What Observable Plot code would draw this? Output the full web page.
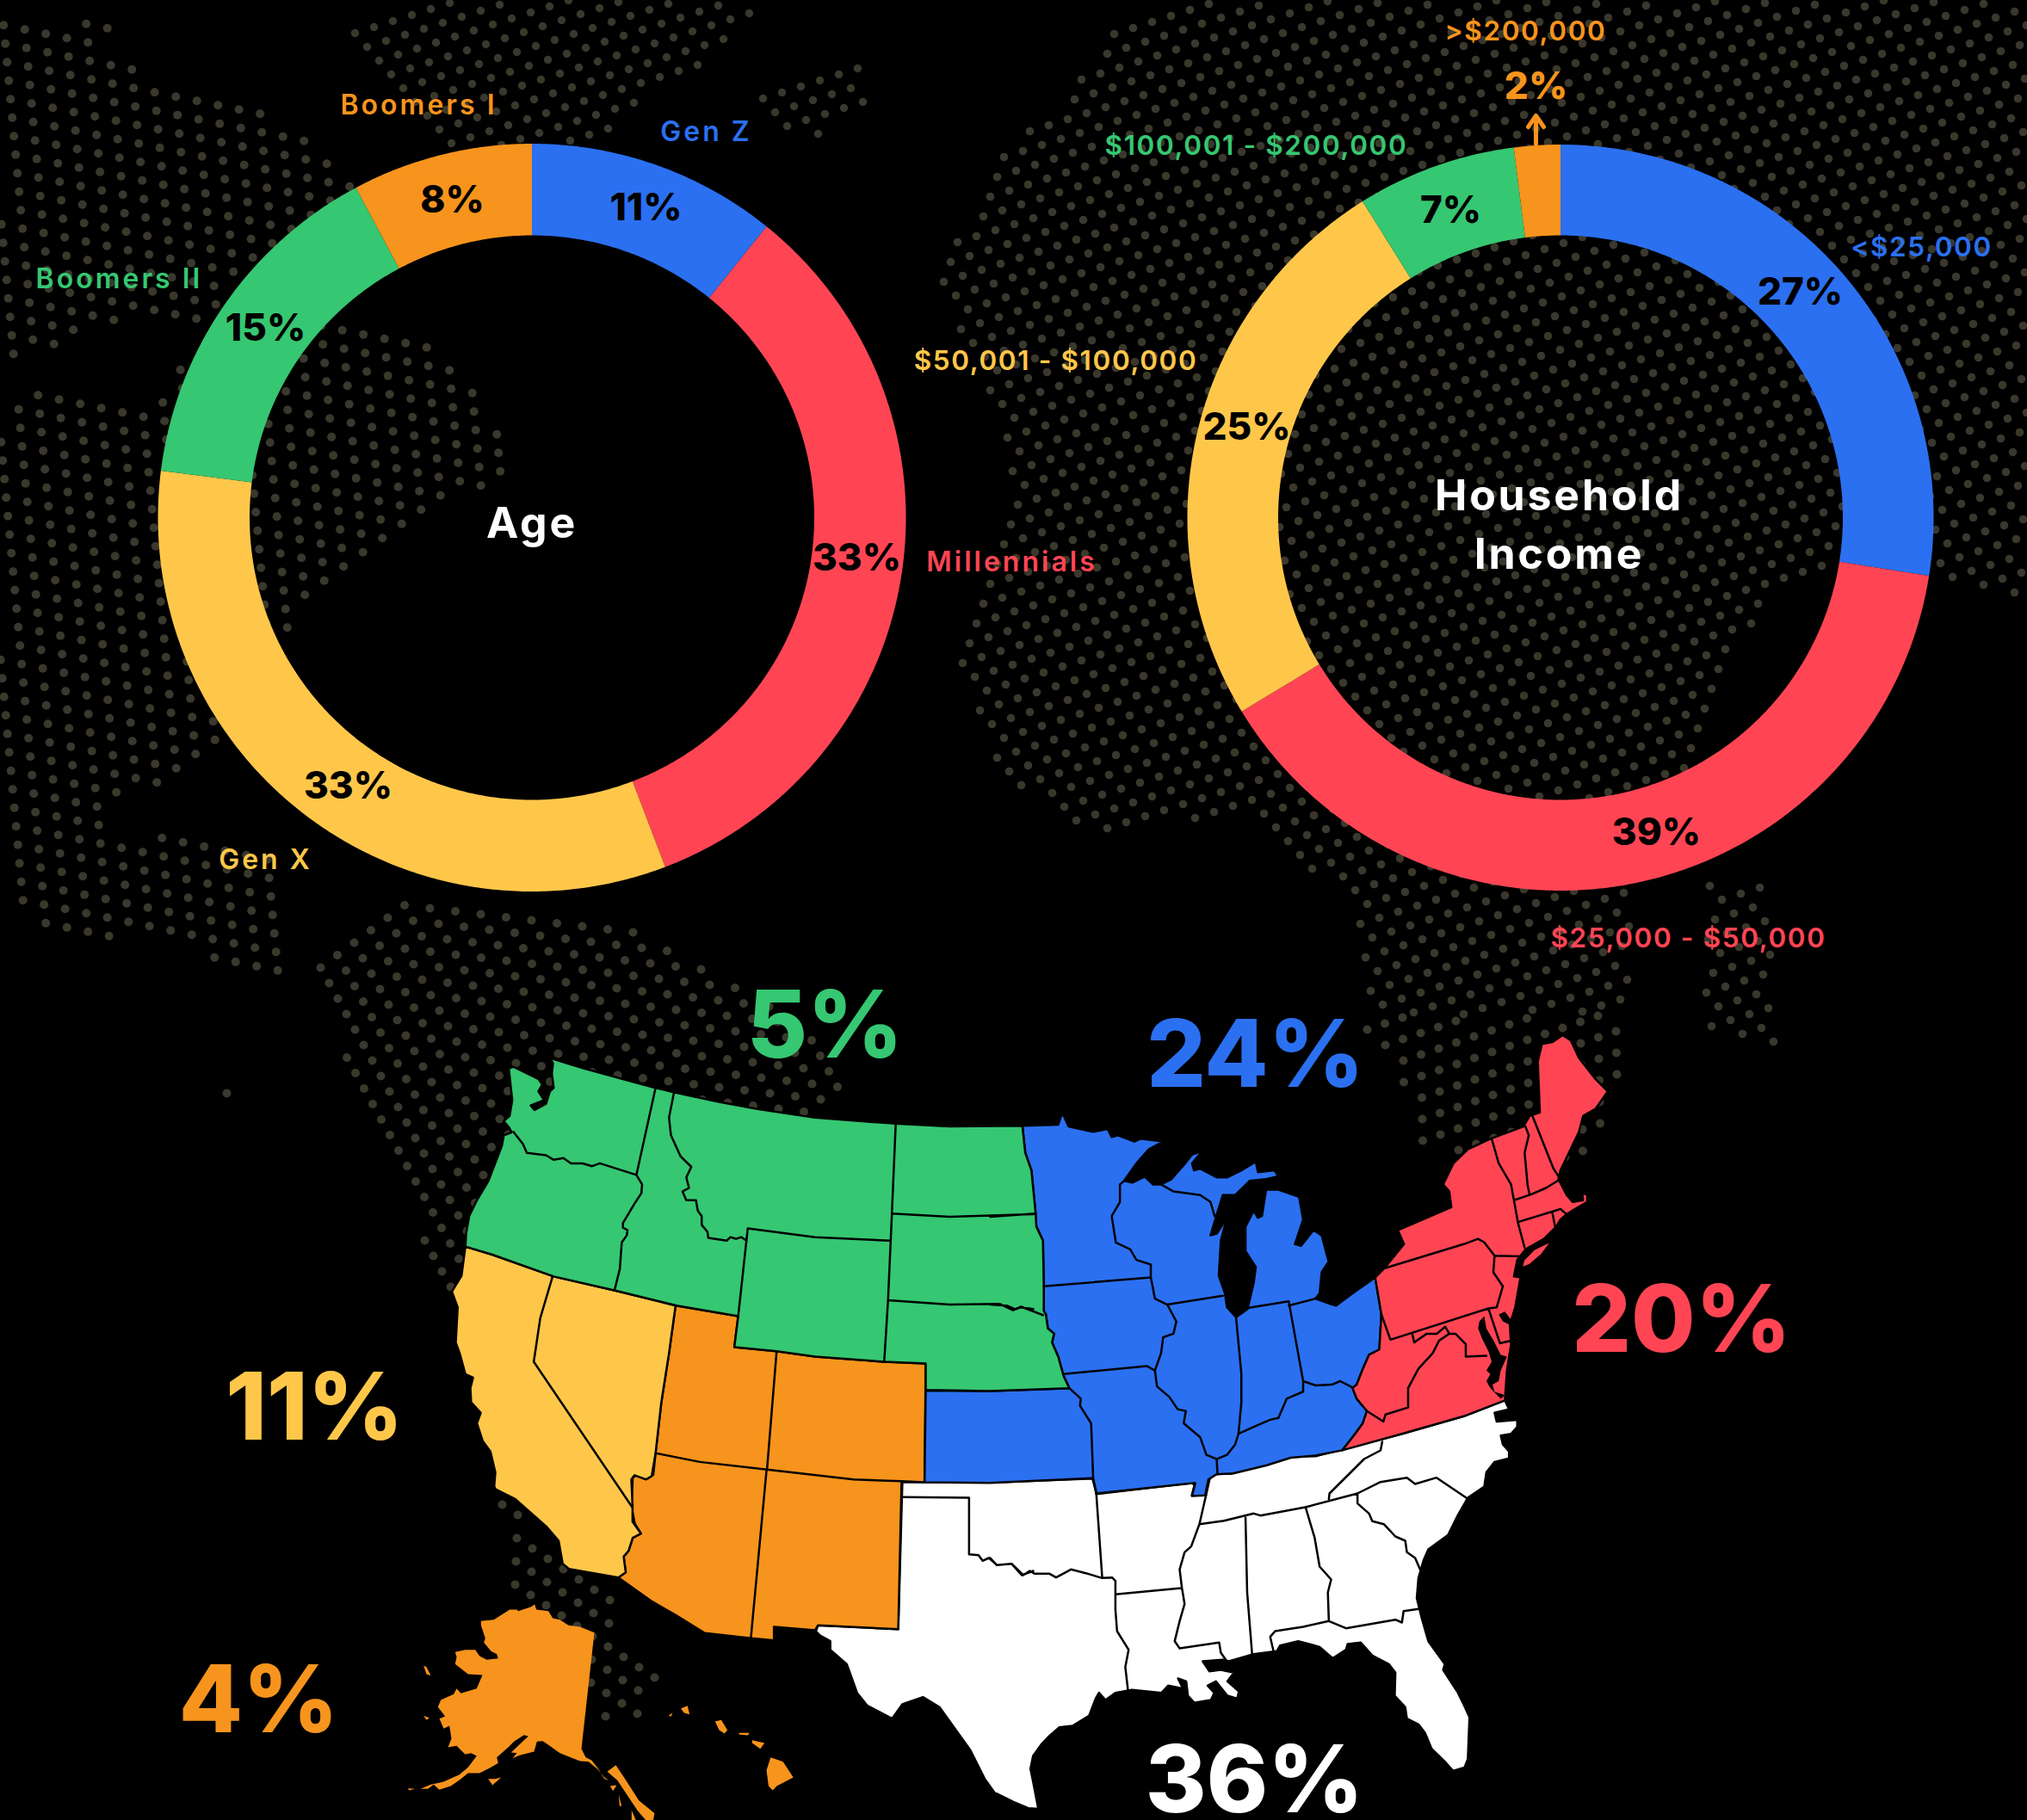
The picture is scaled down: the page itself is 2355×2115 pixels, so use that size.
<!DOCTYPE html>
<html>
<head>
<meta charset="utf-8">
<style>
html,body{margin:0;padding:0;background:#000;overflow:hidden}
svg{display:block}
svg g[font-size="32"]{letter-spacing:3px}
svg g[font-size="31.5"]{letter-spacing:1.6px}
svg g[font-size="50"]{letter-spacing:2.8px}
</style>
<script src="https://cdn.jsdelivr.net/npm/d3@7"></script>
<script src="https://cdn.jsdelivr.net/npm/@observablehq/plot@0.6"></script>
</head>
<body>
<script>
// ---------- chart values ----------
const ageGroups = ["Gen Z","Millennials","Gen X","Boomers II","Boomers I"];
const agePercents = [11,33,33,15,8];
const ageShares = [10.8,33.4,32.8,15.2,7.8];
const incomeBands = ["<$25,000","$25,000 - $50,000","$50,001 - $100,000","$100,001 - $200,000",">$200,000"];
const incomeLabels = [27,39,25,7,2];
const incomeShares = [27.5,38.8,24.8,6.9,2.0];
const tiers = ["first","second","third","fourth","fifth","rest"];
const tierColors = ["#2b70f0","#ff4554","#ffc74a","#36c772","#f7941d","#ffffff"];
const regionPercents = [
  {label:"5%",tier:"fourth"},{label:"24%",tier:"first"},{label:"20%",tier:"second"},
  {label:"11%",tier:"third"},{label:"4%",tier:"fifth"},{label:"36%",tier:"rest"}
];

// ---------- placement ----------
const regionPercentAt = [[958,1228],[1458,1262],[1953,1570],[365,1672],[300,2012],[1457,2105]];
const ageNameAt = [[820,163],[1175,663],[308,1009],[138,334],[486,132]];
const agePctAt = [[750,255],[995,662],[404,927],[308,395],[525,246]];
const incomeNameAt = [[2232,297],[1961,1100],[1226,429],[1459,179],[1772,46]];
const incomePctAt = [[2091,353],[1924,981],[1448,510],[1685,258],[1784,114]];

// traced outlines, each written in the frame of the crop it was read from
const frames = {
  full:[0,0,1,1], z1:[500,1180,2.24,2.45], z2:[1150,1180,2.0907,2.45],
  z3:[450,1650,2.0907,3], z4:[1150,1650,2.6133,3], z5:[0,0,1.3067,1.3067], z6:[1050,0,1.2015,1.2544],
  ak:[460,1820,3,3]
};
const greenOutline = [
 ["z1","310,120 400,150 500,180 585,205 635,218 750,245 850,265 1000,290 1210,307 1350,315 1540,313"],
 ["z2","78,313 85,390 100,440 110,560 112,600 128,640 130,770 130,840 135,850 140,890 155,905 150,930 165,970 178,1025 192,1060 0,1068"],
 ["z1","1288,1065 1288,990 1180,985 1000,970 900,955 790,943 800,855 640,825 480,782 320,742 160,680 90,657 92,620 100,570 120,525 150,470 185,370 190,340 210,332 205,320 190,300 205,285 212,240 203,150 215,145 280,180 290,195 280,215 295,240 260,255 270,268 300,250 310,215 320,205 315,165 318,135"]];
const yellowOutline = [
 ["z1","90,657 160,680 320,742 480,782 637,825 620,960 600,1100 585,1245 575,1310 560,1320 530,1308 522,1320 525,1395 525,1440"],
 ["z3","615,395 595,410 585,455 573,475 578,530 560,548 440,518 425,500 415,420 385,370 310,275 262,240"],
 ["z1","165,1340 168,1300 155,1240 135,1210 120,1160 130,1130 105,1100 103,1060 110,1030 90,1020 75,960 65,930 70,830 55,785 80,740"]];
const orangeOutline = [
 ["z1","637,825 800,855 790,943 900,955 1000,970 1180,985 1288,990 1285,1328 1225,1325"],
 ["z3","1248,215 1240,728 1045,715 1038,732 938,720 938,767 882,760 770,742 700,680 640,630 560,548 578,530 573,475 585,455 595,410 615,395 600,360 592,300 595,200 605,190 632,203 645,190"],
 ["z1","585,1245 600,1100 620,960"]];
const blueOutline = [
 ["z2","78,313 165,310 175,275 190,315 230,325 250,330 285,322 295,345 310,340 350,358 365,350 420,358 385,380 355,420 325,470 345,475 375,458 395,480 415,480 440,465 470,425 490,395 515,385 490,420 495,440 510,435 550,460 575,460 610,440 645,415 650,445 690,440 700,457 670,465 630,470 595,510 565,510 545,585 535,625 550,620 575,575 560,640 555,740 570,790 575,830 597,858 625,835 640,760 645,715 620,670 620,600 640,555 650,575 660,570 670,495 700,495 750,515 760,580 740,650 755,655 785,610 805,625 822,700 805,730 800,790 790,805 825,820 840,825 880,790 935,745 950,850 945,950 920,965 905,1005 890,1050 880,1060 890,1090 915,1125 905,1160 880,1200 855,1237 790,1252 730,1258 670,1280 590,1303 550,1305 530,1320 522,1365 490,1367 498,1330 258,1360 248,1316 0,1330"],
 ["z1","1285,1328 1288,1067"],
 ["z2","0,1068 192,1060 178,1025 165,970 150,930 155,905 140,890 135,850 130,840 130,770 128,640 112,600 110,560 100,440 85,390"]];
const redOutline = [
 ["z2","1390,55 1410,70 1430,120 1470,180 1500,215 1470,265 1440,285 1430,330 1385,440 1380,465 1400,510 1415,530 1440,525 1438,505 1450,510 1450,530 1420,550 1400,565 1385,580 1375,600 1345,635 1300,665 1280,695 1272,742 1288,745 1275,830 1262,880 1265,935 1255,1010 1250,1095 1150,1140 1000,1190 855,1237 880,1200 905,1160 915,1125 890,1090 880,1060 890,1050 905,1005 920,965 945,950 950,850 935,745 960,715 1005,650 990,610 1040,585 1120,545 1115,500 1100,480 1125,420 1160,380 1215,350 1295,315 1310,285 1335,275 1330,130 1340,80 1365,75"]];
const longIsland = [["z2","1365,640 1345,650 1320,665 1295,695 1290,718 1310,710 1340,680"]];
const whiteOutline = [
 ["z3","1250,215"],
 ["z4","0,217 312,203 322,257 610,218 620,225 612,262 655,262 668,195 690,185 730,187 790,158 840,150 910,125 990,125 1065,102"],
 ["z2","1000,1190 1150,1140 1250,1095 1260,1120 1225,1130 1230,1155 1280,1150 1280,1170 1265,1190 1240,1195 1245,1220 1260,1240 1260,1260 1225,1270 1205,1300 1200,1340 1160,1372"],
 ["z4","1420,330 1390,400 1330,450 1315,490 1300,550 1295,620 1310,690 1330,770 1380,850 1375,870 1420,950 1435,985 1455,1035 1450,1180 1440,1210 1405,1222 1380,1190 1340,1145 1320,1090 1300,1060 1265,1040 1260,1000 1240,975 1228,960 1230,880 1210,850 1160,820 1125,775 1085,780 1080,800 1040,830 1000,790 935,770 880,785 870,805 800,815 725,840 705,835 645,840 665,875 700,870 740,880 720,910 755,945 750,970 720,960 685,910 660,925 680,950 670,975 620,985 600,960 595,910 570,900 585,935 540,925 520,950 430,940 380,950 350,975 330,950 320,970 300,1030 250,1065 210,1070 180,1100 155,1130 130,1170 122,1215 130,1260 145,1350 155,1355 115,1352 70,1330 0,1290"],
 ["z3","1480,1310 1450,1250 1415,1150 1340,1000 1300,965 1250,990 1225,1040 1165,995 1140,950 1115,850 1075,800 1075,770 1050,750 1040,735 1045,715 1240,728"]];
const alaskaParts = [
 [["ak","295,190 340,185 395,150 420,150 425,155 470,140 482,132 488,150 530,155 545,180 570,185 600,205 640,210 690,230 645,635 660,665 680,675 700,700 725,740 740,745 725,735 700,705 670,680 640,678 600,662 570,650 530,622 510,608 490,610 480,645 430,658 405,668 420,650 400,648 445,605 460,592 445,587 410,610 390,630 350,665 355,685 330,700 290,720 250,720 225,740 190,765 150,778 130,760 110,775 85,775 120,760 165,750 220,725 250,700 280,660 260,650 240,655 210,625 180,630 192,600 185,555 165,565 150,530 170,522 145,490 155,465 200,445 210,425 225,442 280,425 300,378 250,375 205,340 210,315 205,298 240,290 275,290 290,312 315,325 355,320 350,305 330,295 305,265 310,250 295,205"]],
 [["ak","735,715 765,692 800,745 845,815 900,860 895,885 870,885 840,850 800,790 770,745"]],
 [["ak","820,850 835,885 820,885"]],
 [["ak","775,795 785,835 778,835"]],
 [["ak","745,765 768,762 755,782"]],
 [["ak","320,740 345,740 365,735 335,762"]],
 [["ak","95,345 105,350 120,380 105,375"]],
 [["ak","95,520 115,528 105,535"]],
 [["ak","40,773 65,775 45,780"]]];
const hawaiiParts = [
 [["z3","930,1175 960,1190 985,1245 945,1275 935,1290 925,1275 920,1220"]],
 [["z3","885,1115 915,1125 905,1145 885,1125"]],
 [["z3","795,1050 810,1045 825,1080 818,1092 805,1080"]],
 [["z3","712,1005 728,995 733,1025 720,1020"]],
 [["z3","682,1030 692,1020 688,1033"]],
 [["z3","852,1090 878,1090 875,1098 855,1096"]]];
const waterParts = [
 [["z2","1188,870 1200,855 1205,890 1225,930 1240,965 1255,970 1240,1010 1235,1040 1220,1050 1225,1070 1250,1080 1240,1090 1215,1060 1205,1040 1215,1020 1205,1010 1218,985 1210,955 1195,920 1185,890"]],
 [["z2","1235,850 1250,842 1265,865 1262,880 1245,870"]]];
const stateBorders = [
 ["z1","585,205 535,453"],
 ["z1","215,330 240,365 250,390 300,397 320,410 345,405 365,420 395,420 420,428 440,420 535,453 550,480 548,505 530,535 500,590 500,603 512,610 510,625 497,645 492,720 478,782"],
 ["z1","633,218 620,290 625,340 650,400 678,430 665,460 672,490 655,500 665,525 690,525 695,555 705,570 705,595 720,615 722,632 770,640 780,630 795,635 808,630 822,640"],
 ["z1","1195,640 1000,630 825,605 800,855"],
 ["z1","1210,307 1200,563 1190,810 1180,985"],
 ["z1","1200,563 1350,572 1568,565"],
 ["z2","0,572 110,563"],
 ["z1","1190,810 1350,822 1480,820 1515,838 1535,830 1568,835"],
 ["z2","0,822 40,825 60,835 75,828 128,852"],
 ["z1","317,742 285,860 268,985 525,1400"],
 ["z1","900,955 875,1292"],
 ["z1","585,1245 700,1270 875,1292 1100,1320 1225,1325"],
 ["z3","920,175 882,760"],
 ["z2","325,470 315,480 315,530 295,570 305,645 340,665 355,695 390,708 390,745 400,805 430,822 452,870 445,905 420,915 415,960 400,1010 405,1055 435,1085 455,1120 475,1125 470,1160 510,1200 525,1250 550,1262 552,1305"],
 ["z2","130,770 390,745"],
 ["z2","178,1020 380,997 400,1010"],
 ["z2","430,822 565,797"],
 ["z2","415,480 445,500 510,510 535,530 545,570"],
 ["z2","597,858 610,1020 610,1100 603,1190 595,1220 575,1250 550,1262"],
 ["z2","625,832 725,813 760,1040 790,1052 830,1050 850,1040 880,1058"],
 ["z2","725,825 790,805"],
 ["z2","603,1190 640,1170 680,1150 700,1145 720,1090 760,1070 760,1040"],
 ["z2","192,1060 220,1090 218,1110 245,1160 250,1316 258,1360"],
 ["z2","960,718 1150,650 1185,635 1200,645 1225,683 1288,685"],
 ["z2","1225,683 1222,730 1245,770 1230,830 1210,833 972,922 950,850"],
 ["z2","1025,905 1030,930 1060,905 1085,905 1105,885 1115,905 1130,905 1155,935 1155,970 1205,968"],
 ["z2","1210,833 1238,932 1265,925"],
 ["z2","1115,905 1090,925 1075,960 1040,1005 1015,1060 1015,1115 960,1135 955,1155 915,1125"],
 ["z2","1218,350 1235,420 1265,480 1272,525 1282,590 1298,660"],
 ["z2","1300,315 1308,340 1298,390 1305,480 1310,510"],
 ["z2","1317,285 1368,435 1385,465"],
 ["z2","1272,525 1310,510 1350,490 1385,465"],
 ["z2","1282,587 1385,550 1400,565"],
 ["z2","1365,558 1372,600"],
 ["z3","1252,268 1412,270 1412,467 1435,470 1445,490 1460,480 1480,505 1515,500 1540,540 1568,525"],
 ["z4","0,480 20,505 65,500 100,540 120,525 135,535 180,535 200,548 245,520 290,533 340,550 370,548 380,560 380,660 385,735 420,800 410,860 418,940"],
 ["z4","322,257 340,550"],
 ["z4","380,607 580,585"],
 ["z4","655,262 635,362 610,440 590,460 575,520 582,585 590,640 575,700 560,770 575,795 695,775 700,810 718,840"],
 ["z4","775,340 780,600 795,815"],
 ["z4","635,362 710,350 800,325 820,332 960,302 1115,255"],
 ["z4","957,302 985,410 1000,510 1035,555 1025,600 1028,700"],
 ["z4","860,805 850,755 865,735 950,720 1028,700 1080,725 1230,695 1250,705 1255,665 1300,658"],
 ["z4","1115,255 1115,290 1150,325 1160,352 1195,362 1230,405 1260,420 1265,460 1290,480 1305,520"],
 ["z4","1115,255 1185,215 1265,200 1290,222 1355,200 1445,270"],
 ["z4","1190,75 1185,105 1135,135 1030,255 1028,275"]
];
// where the dotted world map shows: [frame, outline, lattice step a, lattice step b, dot radius, lattice anchor]
const dotLand = [
 ["z5","0,30 180,30 175,65 100,75 220,105 300,150 430,180 520,240 540,290 450,390 350,430 300,510 190,480 60,530 0,570",[24.5,5],[2,21.5],5,[18.7,706.7]],
 ["z5","0,600 100,595 230,620 300,520 490,480 600,500 665,520 720,590 770,660 760,720 690,760 625,800 530,865 495,890 450,910 430,1000 380,1100 335,1130 280,1165 240,1190 165,1220 170,1270 300,1265 420,1300 430,1470 405,1500 340,1465 240,1425 140,1430 70,1415 20,1360 0,1300",[24.5,5],[2,21.5],5,[18.7,706.7]],
 ["z5","525,40 640,0 1160,0 1150,30 1090,70 1040,130 970,150 920,215 650,225 600,120 525,65",[22,-7],[14,16],4.7,[600,60]],
 ["z5","1130,140 1310,85 1325,165 1220,215 1170,170",[22,-7],[14,16],4.7,[930,100]],
 ["full","360,1125 459,1040 673,1064 773,1094 857,1140 984,1233 982,1265 942,1300 700,1500 518,1502 435,1306 390,1200",[29.5,3.5],[10,18],5,[520,1192]],
 ["full","250,1258 275,1258 275,1285 250,1285",[29.5,3.5],[10,18],5,[263,1270]],
 ["z3","270,260 430,500 560,600 555,760 670,880 625,1030 510,1045 490,900 495,760 450,720 300,620 295,460",[18,12],[19,-15],5,[705,1940]],
 ["z6","290,30 400,0 1568,0 1568,880 1430,840 1310,810 1200,880 1130,1020 1060,1190 1020,1320 1015,1480 650,1480 620,1290 550,1270 500,1190 370,1195 270,1215 130,1125 75,965 140,780 150,660 130,600 50,430 55,380 160,190 230,150",[22,-7],[14,16],4.8,[1544,614]],
 ["z6","1120,1290 1205,1270 1215,1520 1110,1510",[22,-7],[14,16],4.8,[2020,1100]],
 ["z2","905,30 1000,0 1560,0 1540,140 1500,310 1430,430 1100,400 1050,360 1045,290 960,140",[20.5,-7],[0.5,25],5,[1652,1300]]
];

// ---------- build ----------
const toFull = (f,[x,y]) => { const [ox,oy,sx,sy] = frames[f]; return [ox + x/sx, oy + y/sy]; };
const parse = (f,s) => s.split(" ").map(p => toFull(f, p.split(",").map(Number)));
const ring = segs => { const r = segs.flatMap(([f,s]) => parse(f,s)); r.push(r[0]); return r; };
const polygon = (tier, parts) => ({tier, geometry:{type:"MultiPolygon", coordinates: parts.map(p => [ring(p)])}});

const donutCenterY = 601, innerR = 328;
function donut(cx, outerR, shares) {
  const total = d3.sum(shares); let acc = 0;
  return shares.map((v,i) => {
    const a0 = acc/total*2*Math.PI; acc += v; const a1 = acc/total*2*Math.PI;
    const n = Math.ceil((a1-a0)/0.01);
    const angles = d3.range(n+1).map(k => a0 + (a1-a0)*k/n);
    const pt = (r,a) => [cx + r*Math.sin(a), donutCenterY - r*Math.cos(a)];
    const coords = [...angles.map(a => pt(outerR,a)), ...angles.slice().reverse().map(a => pt(innerR,a))];
    coords.push(coords[0]);
    return {tier:tiers[i], geometry:{type:"Polygon", coordinates:[coords]}};
  });
}
const slices = [...donut(617.5, 434.5, ageShares), ...donut(1812.5, 433.5, incomeShares)];

const dots = dotLand.map(([f,s,a,b,r,o]) => {
  const poly = parse(f,s), pts = [];
  const N = 120;
  for (let i=-N;i<=N;i++) for (let j=-N;j<=N;j++) {
    const p=[o[0]+i*a[0]+j*b[0], o[1]+i*a[1]+j*b[1]];
    if (d3.polygonContains(poly,p)) pts.push({x:p[0],y:p[1],r});
  }
  return pts;
}).flat();

const mapShapes = [
  polygon("rest",[whiteOutline]),
  polygon("fifth",[orangeOutline]),
  polygon("third",[yellowOutline]),
  polygon("first",[blueOutline]),
  polygon("second",[redOutline,longIsland]),
  polygon("fourth",[greenOutline])
];
const outlyingShapes = [polygon("fifth",[...alaskaParts,...hawaiiParts])];
const borders = {type:"MultiLineString", coordinates: stateBorders.map(([f,s]) => parse(f,s))};
const water = {type:"MultiPolygon", coordinates: waterParts.map(p => [ring(p)])};
const arrowShape = {type:"MultiLineString", coordinates:[[[1784,167],[1784,136]],[[1775,147],[1784,134],[1793,147]]]};

const at = (labels, places) => labels.map((label,i) => ({label, x:places[i][0], y:places[i][1], tier:tiers[i]}));
const nameLabels = [...at(ageGroups,ageNameAt), ...at(incomeBands,incomeNameAt)];
const pctLabels = [...at(agePercents.map(v=>v+"%"),agePctAt), ...at(incomeLabels.slice(0,4).map(v=>v+"%"),incomePctAt)];
const bigLabels = regionPercents.map((d,i) => ({...d, x:regionPercentAt[i][0], y:regionPercentAt[i][1]}));
const centerLabels = [{label:"Age",x:617.5,y:624},{label:"Household",x:1811,y:592},{label:"Income",x:1811,y:660}];
const FONT = "Inter, 'Noto Sans', sans-serif";
const textBase = {x:"x", y:"y", text:"label", fontFamily:FONT, lineAnchor:"bottom", textAnchor:"middle"};

const chart = Plot.plot({
  width:2355, height:2115, margin:0,
  projection: d3.geoIdentity(),
  style:{background:"#000"},
  color:{domain:tiers, range:tierColors},
  marks:[
    Plot.dot(dots,{x:"x",y:"y",r:{value:"r",scale:null},fill:"#3a382c",stroke:"none"}),
    Plot.geo(slices,{geometry:"geometry",fill:"tier",stroke:"none"}),
    Plot.geo(mapShapes,{geometry:"geometry",fill:"tier",stroke:"#000",strokeWidth:2.5,strokeLinejoin:"round"}),
    Plot.geo(outlyingShapes,{geometry:"geometry",fill:"tier",stroke:"none"}),
    Plot.geo([water],{fill:"#000",stroke:"none"}),
    Plot.geo([borders],{fill:"none",stroke:"#000",strokeWidth:2.5,strokeLinejoin:"round",strokeLinecap:"round"}),
    Plot.geo([arrowShape],{fill:"none",stroke:tierColors[4],strokeWidth:5}),
    Plot.text(nameLabels.filter(d => !/\d/.test(d.label)),{...textBase,fill:"tier",fontSize:32,fontWeight:600}),
    Plot.text(nameLabels.filter(d => /\d/.test(d.label)),{...textBase,fill:"tier",fontSize:31.5,fontWeight:600}),
    Plot.text(pctLabels,{...textBase,fill:"#000",fontSize:44,fontWeight:800}),
    Plot.text([{label:incomeLabels[4]+"%",x:incomePctAt[4][0],y:incomePctAt[4][1],tier:tiers[4]}],{...textBase,fill:"tier",fontSize:44,fontWeight:800}),
    Plot.text(centerLabels,{...textBase,fill:"#fff",fontSize:50,fontWeight:700}),
    Plot.text(bigLabels,{...textBase,fill:"tier",fontSize:108,fontWeight:800})
  ]
});
document.body.append(chart);
</script>
</body>
</html>
